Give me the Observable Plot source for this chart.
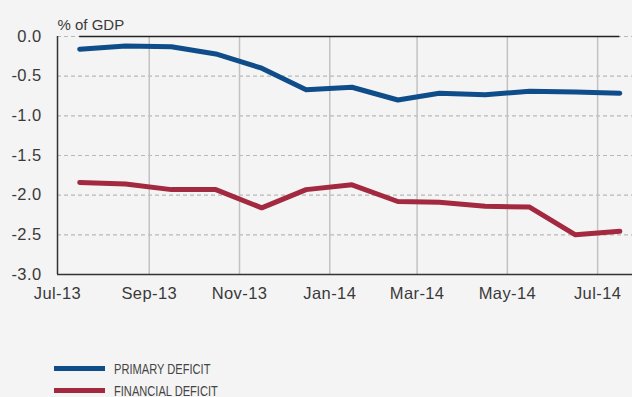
<!DOCTYPE html>
<html>
<head>
<meta charset="utf-8">
<script src="https://cdn.jsdelivr.net/npm/d3@7"></script>
<script src="https://cdn.jsdelivr.net/npm/@observablehq/plot@0.6"></script>
<style>
  html, body { margin: 0; padding: 0; background: #f4f4f4; }
  body { width: 632px; height: 397px; overflow: hidden; font-family: "Liberation Sans", Arial, sans-serif; }
  #legend { margin-top: 17px; }
  .row { height: 22px; line-height: 22px; white-space: nowrap; }
  .sw { display: inline-block; width: 51px; height: 5px; margin-left: 54px; vertical-align: middle; }
  .lb { display: inline-block; margin-left: 9px; font-size: 15px; color: #444; transform: scaleX(0.74); transform-origin: left center; vertical-align: middle; }
  svg g.ticklab text { font-size: 16.5px !important; letter-spacing: 0.4px; }
</style>
</head>
<body>
<div id="chart"></div>
<div id="legend"></div>
<script>
const months = ["2013-07-16","2013-08-16","2013-09-16","2013-10-16","2013-11-16","2013-12-16","2014-01-16","2014-02-16","2014-03-16","2014-04-16","2014-05-16","2014-06-16","2014-07-16"];
const primaryDeficit = [-0.16, -0.12, -0.13, -0.22, -0.40, -0.67, -0.64, -0.80, -0.715, -0.735, -0.69, -0.70, -0.715];
const financialDeficit = [-1.84, -1.86, -1.93, -1.93, -2.16, -1.93, -1.87, -2.08, -2.09, -2.14, -2.15, -2.50, -2.455];
const xTickDates = ["2013-07-01","2013-09-01","2013-11-01","2014-01-01","2014-03-01","2014-05-01","2014-07-01"];
const yTicks = [0, -0.5, -1, -1.5, -2, -2.5, -3];
const seriesNames = ["PRIMARY DEFICIT", "FINANCIAL DEFICIT"];
const seriesColors = ["#0f4d8a", "#a2293f"];
const unitLabel = "% of GDP";

const dates = months.map(d => new Date(d));
const tickDates = xTickDates.map(d => new Date(d));
const rows = [];
dates.forEach((d, i) => {
  rows.push({date: d, value: primaryDeficit[i], series: seriesNames[0]});
  rows.push({date: d, value: financialDeficit[i], series: seriesNames[1]});
});

const chart = Plot.plot({
  width: 632,
  height: 340,
  marginLeft: 57,
  marginRight: 0,
  marginTop: 36,
  marginBottom: 66,
  style: {background: "#f4f4f4", fontFamily: "Liberation Sans, Arial, sans-serif", color: "#3a3a3a", overflow: "hidden"},
  x: {type: "utc", domain: [new Date("2013-07-01"), new Date("2014-08-01")], range: [57, 643]},
  y: {domain: [-3, 0]},
  color: {domain: seriesNames, range: seriesColors},
  marks: [
    Plot.gridY(yTicks.filter(v => v > -3), {stroke: "#b8b8b8", strokeOpacity: 1, strokeWidth: 1.2, strokeDasharray: "4,3"}),
    Plot.gridX(tickDates.slice(1), {stroke: "#c2c2c2", strokeOpacity: 1, strokeWidth: 1.5}),
    Plot.axisY({ticks: yTicks, tickSize: 0, tickPadding: 16, tickFormat: d => d.toFixed(1), label: null, fill: "#3a3a3a", className: "ticklab"}),
    Plot.axisX({ticks: tickDates, tickSize: 0, tickPadding: 13, tickFormat: "%b-%y", label: null, fill: "#3a3a3a", className: "ticklab"}),
    Plot.ruleY([-3], {stroke: "#333", strokeWidth: 1.5}),
    Plot.ruleX([tickDates[0]], {y1: -3, y2: 0, stroke: "#333", strokeWidth: 1.5}),
    Plot.ruleY([0], {x1: dates[0], x2: dates[dates.length - 1], stroke: "#222", strokeWidth: 1.6}),
    Plot.lineY(rows, {x: "date", y: "value", stroke: "series", strokeWidth: 5}),
    Plot.text([unitLabel], {frameAnchor: "top-left", text: d => d, textAnchor: "start", dy: -17, fill: "#3a3a3a", fontSize: 15})
  ]
});
chart.querySelectorAll("text").forEach(t => {
  const g = t.closest("g[aria-label$='tick label']");
  if (g) { t.style.fontSize = "16.5px"; t.style.letterSpacing = "0.4px"; }
});
document.getElementById("chart").appendChild(chart);

const legend = document.getElementById("legend");
seriesNames.forEach((name, i) => {
  const row = document.createElement("div");
  row.className = "row";
  row.innerHTML = `<span class="sw" style="background:${seriesColors[i]}"></span><span class="lb">${name}</span>`;
  legend.appendChild(row);
});
</script>
</body>
</html>
